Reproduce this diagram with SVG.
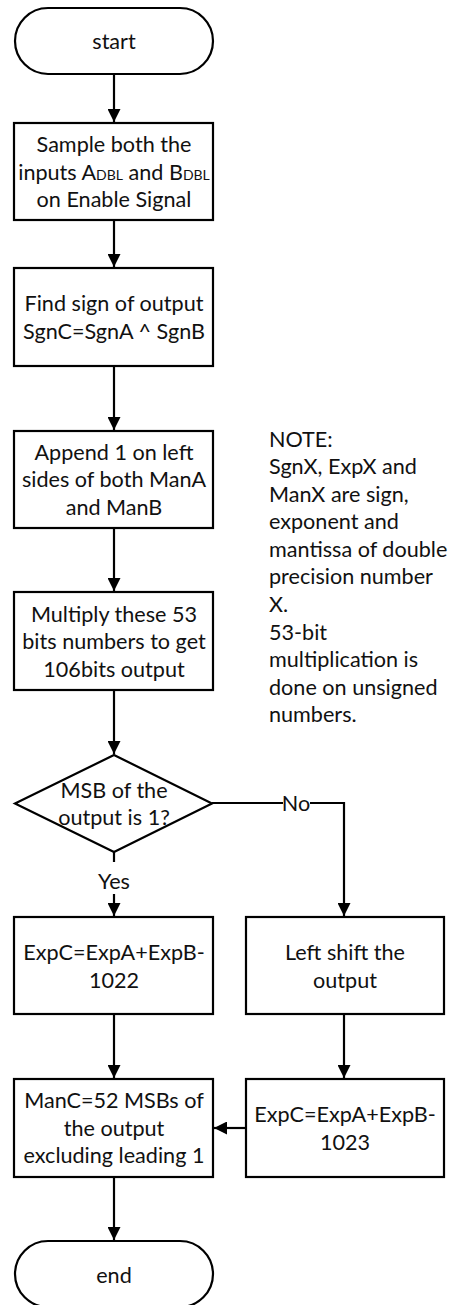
<svg xmlns="http://www.w3.org/2000/svg" width="449" height="1305" viewBox="0 0 449 1305">
  <style>
    .shape { fill: #ffffff; stroke: #000000; stroke-width: 2.2; }
    .line { fill: none; stroke: #000000; stroke-width: 2.2; }
    text { font-family: Lato, "Liberation Sans", sans-serif; font-size: 21.6px; fill: #111111; }
    .c { text-anchor: middle; }
    .sub { font-size: 14px; }
  </style>
  <defs>
    <marker id="arrow" viewBox="0 0 13 13" refX="13" refY="6.5" markerWidth="13" markerHeight="13" markerUnits="userSpaceOnUse" orient="auto">
      <path d="M0,0 L13,6.5 L0,13 Z" fill="#000000"/>
    </marker>
  </defs>
  <rect width="449" height="1305" fill="#ffffff"/>

  <!-- connectors -->
  <g id="connectors">
    <line class="line" x1="114" y1="74" x2="114" y2="122" marker-end="url(#arrow)"/>
    <line class="line" x1="114" y1="220" x2="114" y2="267" marker-end="url(#arrow)"/>
    <line class="line" x1="114" y1="366" x2="114" y2="430" marker-end="url(#arrow)"/>
    <line class="line" x1="114" y1="528" x2="114" y2="591" marker-end="url(#arrow)"/>
    <line class="line" x1="114" y1="690" x2="114" y2="754" marker-end="url(#arrow)"/>
    <!-- Yes branch -->
    <line class="line" x1="114" y1="852" x2="114" y2="862"/>
    <line class="line" x1="114" y1="894" x2="114" y2="916" marker-end="url(#arrow)"/>
    <text class="c" x="114" y="889">Yes</text>
    <!-- No branch -->
    <polyline class="line" points="212,803 283,803"/>
    <polyline class="line" points="310,803 344,803 344,916" marker-end="url(#arrow)"/>
    <text class="c" x="296" y="811">No</text>
    <line class="line" x1="114" y1="1014" x2="114" y2="1078" marker-end="url(#arrow)"/>
    <line class="line" x1="344" y1="1014" x2="344" y2="1078" marker-end="url(#arrow)"/>
    <line class="line" x1="246" y1="1128" x2="214" y2="1128" marker-end="url(#arrow)"/>
    <line class="line" x1="114" y1="1177" x2="114" y2="1240" marker-end="url(#arrow)"/>
  </g>

  <g id="start">
    <rect class="shape" x="15" y="8" width="198" height="66" rx="33" ry="33"/>
    <text class="c" x="114" y="49">start</text>
  </g>

  <g id="sample">
    <rect class="shape" x="14" y="123" width="199" height="97"/>
    <text class="c" x="114" y="152">Sample both the</text>
    <text class="c" x="114" y="180">inputs A<tspan class="sub">DBL</tspan> and B<tspan class="sub">DBL</tspan></text>
    <text class="c" x="114" y="207">on Enable Signal</text>
  </g>

  <g id="sign">
    <rect class="shape" x="14" y="268" width="199" height="98"/>
    <text class="c" x="114" y="311">Find sign of output</text>
    <text class="c" x="114" y="339">SgnC=SgnA ^ SgnB</text>
  </g>

  <g id="append">
    <rect class="shape" x="14" y="431" width="199" height="97"/>
    <text class="c" x="114" y="460">Append 1 on left</text>
    <text class="c" x="114" y="487">sides of both ManA</text>
    <text class="c" x="114" y="515">and ManB</text>
  </g>

  <g id="multiply">
    <rect class="shape" x="14" y="592" width="199" height="98"/>
    <text class="c" x="114" y="622">Multiply these 53</text>
    <text class="c" x="114" y="649">bits numbers to get</text>
    <text class="c" x="114" y="677">106bits output</text>
  </g>

  <g id="msb-check">
    <polygon class="shape" points="114,755 212,803.5 114,852 15,803.5"/>
    <text class="c" x="114" y="798">MSB of the</text>
    <text class="c" x="114" y="825">output is 1?</text>
  </g>

  <g id="exp-1022">
    <rect class="shape" x="14" y="917" width="199" height="97"/>
    <text class="c" x="114" y="960">ExpC=ExpA+ExpB-</text>
    <text class="c" x="114" y="988">1022</text>
  </g>

  <g id="left-shift">
    <rect class="shape" x="246" y="917" width="198" height="97"/>
    <text class="c" x="345" y="960">Left shift the</text>
    <text class="c" x="345" y="988">output</text>
  </g>

  <g id="exp-1023">
    <rect class="shape" x="246" y="1079" width="198" height="98"/>
    <text class="c" x="345" y="1122">ExpC=ExpA+ExpB-</text>
    <text class="c" x="345" y="1150">1023</text>
  </g>

  <g id="mantissa">
    <rect class="shape" x="14" y="1079" width="199" height="98"/>
    <text class="c" x="114" y="1108">ManC=52 MSBs of</text>
    <text class="c" x="114" y="1136">the output</text>
    <text class="c" x="114" y="1163">excluding leading 1</text>
  </g>

  <g id="end">
    <rect class="shape" x="15" y="1241" width="198" height="66" rx="33" ry="33"/>
    <text class="c" x="114" y="1283">end</text>
  </g>

  <g id="note">
    <text x="269" y="447">NOTE:</text>
    <text x="269" y="474">SgnX, ExpX and</text>
    <text x="269" y="502">ManX are sign,</text>
    <text x="269" y="529">exponent and</text>
    <text x="269" y="557">mantissa of double</text>
    <text x="269" y="584">precision number</text>
    <text x="269" y="612">X.</text>
    <text x="269" y="640">53-bit</text>
    <text x="269" y="667">multiplication is</text>
    <text x="269" y="695">done on unsigned</text>
    <text x="269" y="722">numbers.</text>
  </g>
</svg>
